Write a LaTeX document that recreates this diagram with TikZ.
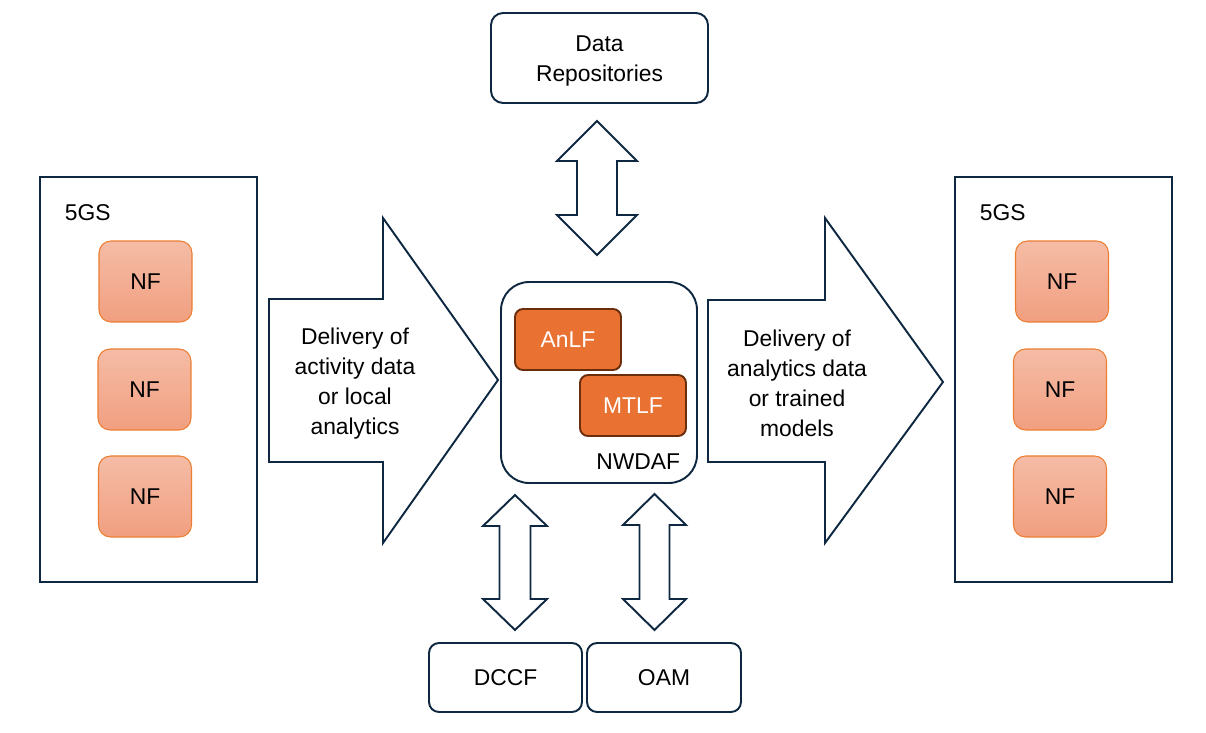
\documentclass[tikz,border=0pt]{standalone}
\usepackage{fontspec}
\setmainfont{Liberation Sans}
\usetikzlibrary{positioning}
\definecolor{navy}{HTML}{0E2841}
\definecolor{nfedge}{HTML}{ED7D31}
\definecolor{nftop}{HTML}{F5BCA6}
\definecolor{nfbot}{HTML}{F19F80}
\definecolor{fnfill}{HTML}{E97132}
\definecolor{fnedge}{HTML}{6B2E0C}

\tikzset{
  box/.style={draw=navy, rounded corners=0.24cm, align=center, inner sep=0pt},
  gsbox/.style={draw=navy, minimum width=4.34cm, minimum height=8.1cm},
  nfbox/.style={draw=nfedge, line width=0.6pt, rounded corners=0.24cm, top color=nftop, bottom color=nfbot, minimum width=1.86cm, minimum height=1.62cm},
  fnbox/.style={draw=fnedge, fill=fnfill, text=white, rounded corners=0.16cm, minimum width=2.12cm, minimum height=1.22cm},
  blockarrow/.style={draw=navy, fill=white, line join=miter},
  lbl/.style={inner sep=0pt}
}

% x, y top, y bottom, half head, half shaft, head length
\newcommand{\dualarrow}[6]{%
  \draw[blockarrow] (#1,#2) -- (#1+#4,#2+#6) -- (#1+#5,#2+#6) -- (#1+#5,#3-#6) -- (#1+#4,#3-#6) -- (#1,#3)
    -- (#1-#4,#3-#6) -- (#1-#5,#3-#6) -- (#1-#5,#2+#6) -- (#1-#4,#2+#6) -- cycle;}

\begin{document}
\begin{tikzpicture}[x=0.02cm, y=-0.02cm, line width=1.1pt, font=\fontsize{13}{17}\selectfont]
  \useasboundingbox (0,0) rectangle (1206,733);

  % 1. DATA REPOSITORIES
  \node[box, minimum width=4.34cm, minimum height=1.8cm] (repo) at (599.5,58) {};
  \node[align=center] (repolbl) at (599.5,61) {Data\\Repositories};
  \dualarrow{597}{121}{255}{40}{20}{40}

  % 2. 5GS, LEFT SIDE
  \node[gsbox] (gsL) at (148.5,379.5) {};
  \node[lbl, anchor=west] (gsLlbl) at (64,213) {5GS};
  \node[nfbox] (nfL1) at (145.5,281.5) {NF};
  \node[nfbox] (nfL2) at (144.5,389.5) {NF};
  \node[nfbox] (nfL3) at (145,496.5) {NF};

  % Delivery towards NWDAF
  \draw[blockarrow] (269,299) -- (383,299) -- (383,218) -- (498,380) -- (383,543) -- (383,462) -- (269,462) -- cycle;
  \node[align=center] (inL) at (355,383.5) {Delivery of\\activity data\\or local\\analytics};

  % 3. NWDAF
  \node[box, rounded corners=0.56cm, minimum width=3.92cm, minimum height=4.02cm] (nwdaf) at (599,382.5) {};
  \node[fnbox] (anlf) at (568,339.5) {AnLF};
  \node[fnbox] (mtlf) at (633,405.5) {MTLF};
  \node[lbl, anchor=east] (nwdaflbl) at (681,462) {NWDAF};

  % Delivery from NWDAF
  \draw[blockarrow] (708,300) -- (825,300) -- (825,218) -- (943,382) -- (825,543) -- (825,462) -- (708,462) -- cycle;
  \node[align=center] (inR) at (797,383.5) {Delivery of\\analytics data\\or trained\\models};

  % 4. 5GS, RIGHT SIDE
  \node[gsbox] (gsR) at (1063.5,379.5) {};
  \node[lbl, anchor=west] (gsRlbl) at (979,213) {5GS};
  \node[nfbox] (nfR1) at (1062,281.5) {NF};
  \node[nfbox] (nfR2) at (1060,389.5) {NF};
  \node[nfbox] (nfR3) at (1060,496.5) {NF};

  % 5. DCCF AND OAM
  \dualarrow{515}{495}{630}{32}{15.5}{31}
  \dualarrow{654.5}{494}{630}{31.5}{15}{31}
  \node[box, rounded corners=0.2cm, minimum width=3.06cm, minimum height=1.38cm] (dccf) at (505.5,677.5) {DCCF};
  \node[box, rounded corners=0.2cm, minimum width=3.08cm, minimum height=1.38cm] (oam) at (664,677.5) {OAM};

\end{tikzpicture}
\end{document}
